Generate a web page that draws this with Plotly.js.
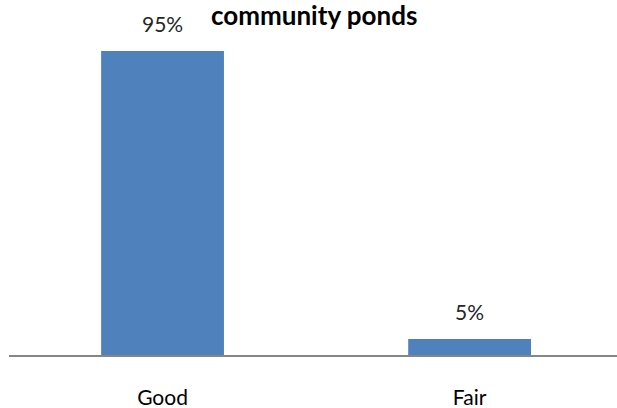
<!DOCTYPE html>
<html><head><meta charset="utf-8">
<script src="https://cdn.plot.ly/plotly-3.0.1.min.js"></script>
<style>body{margin:0;padding:0;}#chart{width:617px;height:408px;}</style>
</head><body><div id="chart"></div>
<script>
var categories = ["Good", "Fair"];
var values = [95, 5];
var labels = ["95%", "5%"];
var titleText = "community ponds";

var trace = {
  type: "bar", x: categories, y: values, width: 0.4,
  marker: {color: "#4F81BD"}, hoverinfo: "none"
};
var annotations = categories.map(function(c, i){
  return {x: c, y: values[i], xref: "x", yref: "y", text: labels[i], showarrow: false,
    yanchor: "bottom", yshift: 13, font: {family: "Lato, 'Open Sans', sans-serif", size: 21, color: "#262626"}};
});
annotations.push({text: "<b>" + titleText + "</b>", xref: "paper", yref: "paper", x: 0.502, y: 1,
  xanchor: "center", yanchor: "bottom", yshift: 2, showarrow: false,
  font: {family: "Lato, 'Open Sans', sans-serif", size: 26, color: "#000000"}});
var layout = {
  width: 617, height: 408,
  margin: {l: 9, r: 0, t: 35, b: 53},
  paper_bgcolor: "#ffffff", plot_bgcolor: "#ffffff",
  showlegend: false,
  xaxis: {type: "category", range: [-0.5, 1.48], showgrid: false, zeroline: false,
    showline: true, linecolor: "#868686", linewidth: 1.5, ticks: "",
    tickfont: {family: "Lato, 'Open Sans', sans-serif", size: 21, color: "#000000"}, ticklabelstandoff: 23},
  yaxis: {range: [0, 100], visible: false, showgrid: false, zeroline: false, fixedrange: true},
  annotations: annotations
};
Plotly.newPlot("chart", [trace], layout, {displayModeBar: false, staticPlot: true});
</script></body></html>
